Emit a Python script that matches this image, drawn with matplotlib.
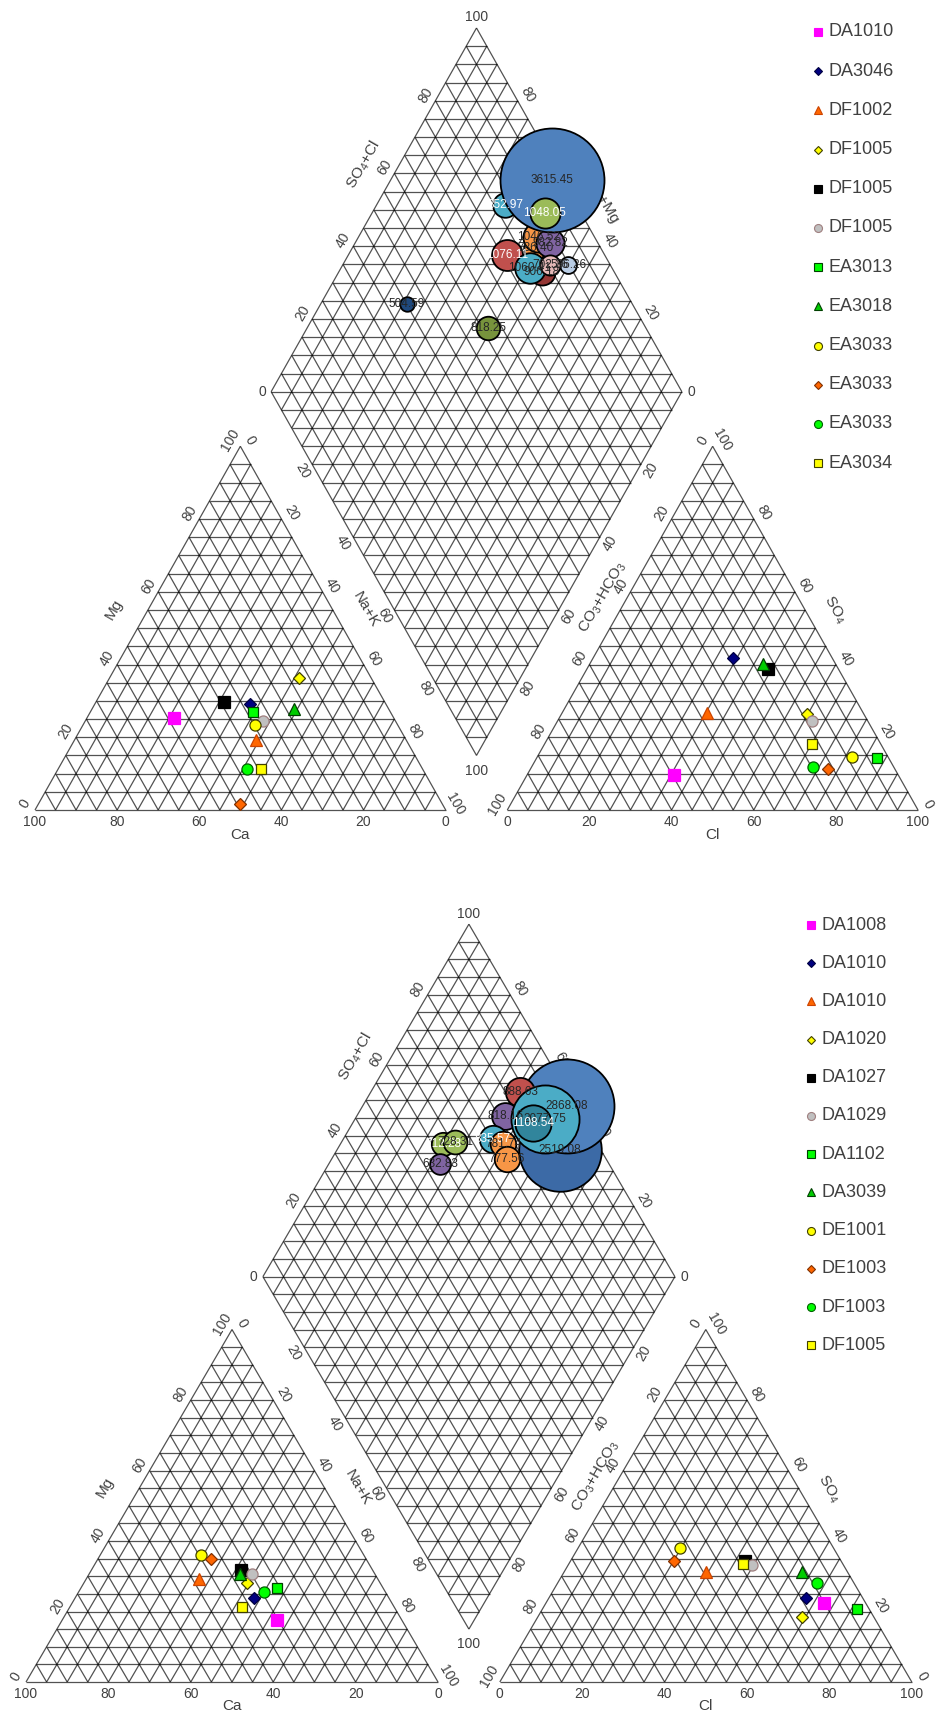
import numpy as np
import matplotlib
matplotlib.use("Agg")
import matplotlib.pyplot as plt
from matplotlib.collections import LineCollection
from matplotlib.lines import Line2D

plt.rcParams['font.family'] = ['Liberation Sans', 'DejaVu Sans']
plt.rcParams['mathtext.fontset'] = 'custom'
plt.rcParams['mathtext.rm'] = 'Liberation Sans'

# ---------------- data: top diagram ----------------
top_names = ['DA1010', 'DA3046', 'DF1002', 'DF1005', 'DF1005', 'DF1005',
             'EA3013', 'EA3018', 'EA3033', 'EA3033', 'EA3033', 'EA3034']
top_mg = [25.3, 29.1, 19.2, 36.3, 29.7, 24.5, 26.9, 27.8, 23.4, 1.6, 11.3, 11.3]
top_nak = [21.2, 37.8, 44.2, 46.2, 31.2, 43.3, 39.6, 49.2, 41.9, 49.1, 46.0, 49.4]
top_so4 = [9.6, 41.8, 26.7, 26.4, 38.8, 24.5, 14.3, 40.1, 14.6, 11.3, 11.8, 18.1]
top_cl = [35.8, 34.1, 35.3, 59.8, 44.1, 62.0, 82.8, 42.2, 76.6, 72.5, 68.5, 65.1]

# bubbles in the diamond (Ca+Mg %, SO4+Cl %, TDS)
top_bub_camg = [50.5, 68.7, 55.5, 56.2, 52.5, 60.7, 57.9, 61.4, 54.0, 45.1, 49.5, 56.0, 79.0]
top_bub_so4cl = [82.4, 82.6, 84.0, 86.2, 88.3, 97.5, 91.2, 76.2, 80.0, 89.7, 85.3, 61.6, 45.2]
top_bub_tds = [906.18, 852.97, 786.40, 1046.52, 982.82, 3615.45, 1048.05,
               1076.11, 1060.41, 586.26, 702.36, 818.25, 504.59]
top_bub_fill = ['#953735', '#4BACC6', '#F79646', '#F79646', '#8064A2', '#4F81BD', '#9BBB59',
                '#C0504D', '#4BACC6', '#B9CDE5', '#E6B9B8', '#77933C', '#1F497D']
top_bub_txt = ['k', 'w', 'k', 'k', 'k', 'k', 'w', 'w', 'k', 'k', 'k', 'k', 'k']

# ---------------- data: bottom diagram ----------------
bot_names = ['DA1008', 'DA1010', 'DA1010', 'DA1020', 'DA1027', 'DA1029',
             'DA1102', 'DA3039', 'DE1001', 'DE1003', 'DF1003', 'DF1005']
bot_mg = [17.5, 23.9, 29.3, 28.2, 31.8, 30.7, 26.8, 30.7, 36.0, 34.9, 25.4, 21.4]
bot_nak = [52.2, 43.4, 27.3, 39.5, 36.3, 39.5, 47.5, 36.6, 24.5, 27.4, 45.1, 41.7]
bot_so4 = [22.3, 23.9, 31.3, 18.3, 34.4, 33.2, 20.8, 31.3, 38.0, 34.4, 28.2, 33.5]
bot_cl = [67.6, 62.4, 34.4, 64.2, 42.3, 44.6, 76.3, 57.7, 24.7, 25.1, 62.9, 42.3]

bot_bub_camg = [45.8, 50.4, 63.8, 64.0, 53.9, 56.2, 63.7, 60.5, 57.5, 75.1, 72.5, 73.0]
bot_bub_so4cl = [90.0, 98.0, 88.6, 81.6, 90.8, 87.4, 75.3, 77.1, 75.9, 62.5, 65.7, 59.0]
bot_bub_tds = [2519.08, 2868.08, 888.63, 818.16, 2077.75, 1108.54, 835.57,
               781.74, 777.56, 712.28, 728.31, 632.83]
bot_bub_fill = ['#3C6AA6', '#4F81BD', '#C0504D', '#8064A2', '#4BACC6', '#31859C', '#4BACC6',
                '#F79646', '#F79646', '#9BBB59', '#9BBB59', '#8064A2']
bot_bub_txt = ['k', 'k', 'k', 'k', 'k', 'w', 'w', 'k', 'k', 'w', 'k', 'k']

# marker styles (same order in both diagrams)
markers = ['s', 'D', '^', 'D', 's', 'o', 's', '^', 'o', 'D', 'o', 's']
faces = ['#FF00FF', '#000080', '#FF6600', '#FFFF00', '#000000', '#C0C0C0',
         '#00FF00', '#00CC00', '#FFFF00', '#FF6600', '#00FF00', '#FFFF00']
edges = ['#FF00FF', '#000040', '#CC4400', '#404000', '#000000', '#A08080',
         '#004000', '#004000', '#404000', '#803000', '#006000', '#404000']
msizes = [8.5, 6.0, 8.0, 6.0, 8.0, 8.0, 7.5, 8.0, 8.0, 6.0, 8.0, 7.5]

TXT = '#404040'
GAP = 15
H = np.sqrt(3) / 2
OX = 100 + GAP
BX, BY = 100 + GAP / 2, GAP * H


def cation_xy(mg, nak):
    mg, nak = np.asarray(mg), np.asarray(nak)
    return nak + mg / 2, H * mg


def anion_xy(so4, cl):
    so4, cl = np.asarray(so4), np.asarray(cl)
    return OX + cl + so4 / 2, H * so4


def diamond_xy(camg, so4cl):
    a, b = np.asarray(camg) / 100, np.asarray(so4cl) / 100
    return BX + 50 * (b - a), BY + 100 * H * (a + b)


def tick(ax, x, y, s, rot=0, size=10):
    ax.text(x, y, s, rotation=rot, ha='center', va='center',
            rotation_mode='anchor', fontsize=size, color=TXT)


def draw_frame(ax):
    segs = []
    for k in range(0, 101, 5):
        # left triangle
        segs.append([(k / 2, H * k), (100 - k / 2, H * k)])
        segs.append([(k, 0), (50 + k / 2, H * (100 - k))])
        segs.append([(100 - k, 0), ((100 - k) / 2, H * (100 - k))])
        # right triangle
        segs.append([(OX + k / 2, H * k), (OX + 100 - k / 2, H * k)])
        segs.append([(OX + k, 0), (OX + 50 + k / 2, H * (100 - k))])
        segs.append([(OX + 100 - k, 0), (OX + (100 - k) / 2, H * (100 - k))])
        # diamond
        segs.append([diamond_xy(k, 0), diamond_xy(k, 100)])
        segs.append([diamond_xy(0, k), diamond_xy(100, k)])
    for j in range(0, 41):
        s = j * 0.05
        w = 50 * (s if s <= 1 else 2 - s)
        y = BY + 100 * H * s
        segs.append([(BX - w, y), (BX + w, y)])
    ax.add_collection(LineCollection(segs, colors='k', linewidths=0.9, alpha=0.68, zorder=1))

    d = 2.8
    for k in range(0, 101, 20):
        # left triangle
        tick(ax, k, -2.9, str(100 - k))
        tick(ax, k / 2 - H * d, H * k + 0.5 * d, str(k), 60)
        tick(ax, 50 + k / 2 + H * d, H * (100 - k) + 0.5 * d, str(k), -60)
        # right triangle
        tick(ax, OX + k, -2.9, str(k))
        tick(ax, OX + 50 - k / 2 - H * d, H * (100 - k) + 0.5 * d, str(k), 60)
        tick(ax, OX + 100 - k / 2 + H * d, H * k + 0.5 * d, str(k), -60)
    lx, ly = BX - 50, BY + 100 * H
    rx, ry = BX + 50, BY + 100 * H
    for k in range(20, 100, 20):
        f = k / 100
        tick(ax, lx + 50 * f - H * d, ly + 100 * H * f + 0.5 * d, str(k), 60)
        tick(ax, rx - 50 * f + H * d, ry + 100 * H * f + 0.5 * d, str(k), -60)
        tick(ax, lx + 50 * f - H * d, ly - 100 * H * f - 0.5 * d, str(k), -60)
        tick(ax, rx - 50 * f + H * d, ry - 100 * H * f - 0.5 * d, str(k), 60)
    tick(ax, lx - 2.2, ly, '0')
    tick(ax, rx + 2.2, ry, '0')
    tick(ax, BX, BY + 200 * H + 2.6, '100')
    tick(ax, BX, BY - 3.6, '100')

    # axis names
    tick(ax, 50, -6.0, 'Ca', size=11)
    tick(ax, OX + 50, -6.0, 'Cl', size=11)
    m = 51
    tick(ax, m / 2 - H * 7.2, H * m + 3.6, 'Mg', 60, 11)
    n = 49
    tick(ax, 50 + n / 2 + H * 7, H * (100 - n) + 3.5, 'Na+K', -60, 11)
    c = 44.5
    tick(ax, OX + 50 - c / 2 - H * 5.2, H * (100 - c) + 2.6,
         r'CO$_\mathregular{3}$+HCO$_\mathregular{3}$', 60, 11)
    s = 51.3
    tick(ax, OX + 100 - s / 2 + H * 6.3, H * s + 3.15, r'SO$_\mathregular{4}$', -60, 11)
    q, dq = 0.58, 7.5
    tick(ax, lx + 50 * q - H * dq, ly + 100 * H * q + 0.5 * dq, r'SO$_\mathregular{4}$+Cl', 60, 11)
    p = 0.49
    tick(ax, rx - 50 * p + H * 6, ry + 100 * H * p + 3, 'Ca+Mg', -60, 11)


def draw_panel(ax, mg, nak, so4, cl, camg, so4cl, tds, fills, txtc, rmax):
    draw_frame(ax)
    cx, cy = cation_xy(mg, nak)
    axx, axy = anion_xy(so4, cl)
    for i in range(len(mg)):
        for x, y in ((cx[i], cy[i]), (axx[i], axy[i])):
            ax.plot(x, y, marker=markers[i], ms=msizes[i], mfc=faces[i], mec=edges[i],
                    mew=0.9, ls='none', zorder=3 + i * 0.01)
    bx, by = diamond_xy(camg, so4cl)
    tds = np.asarray(tds)
    r_px = rmax * tds / tds.max()
    sizes = (2 * r_px * 0.72) ** 2
    for i in range(len(tds)):
        ax.scatter(bx[i], by[i], s=sizes[i], c=fills[i], edgecolors='k',
                   linewidths=1.3, zorder=5 + i * 0.01)
    for i in range(len(tds)):
        ax.text(bx[i], by[i], '%.2f' % tds[i], ha='center', va='center', fontsize=8.5,
                color='white' if txtc[i] == 'w' else '#262626', zorder=8)


def draw_legend(fig, names, xm, xt, y0, dy):
    for i, name in enumerate(names):
        y = 1 - (y0 + dy * i) / 1712
        fig.add_artist(Line2D([xm / 947], [y], transform=fig.transFigure, marker=markers[i],
                              ms=msizes[i] * 0.72, mfc=faces[i], mec=edges[i], mew=0.8, ls='none'))
        fig.text(xt / 947, y, name, ha='left', va='center', fontsize=13, color=TXT)


fig = plt.figure(figsize=(9.47, 17.12), dpi=100)

ax1 = fig.add_axes([0, 0.5, 1, 0.5])
ax1.set_xlim(-35 / 4.107, (947 - 35) / 4.107)
ax1.set_ylim((810 - 856) / 4.2, 810 / 4.2)
ax1.axis('off')
draw_panel(ax1, top_mg, top_nak, top_so4, top_cl, top_bub_camg, top_bub_so4cl,
           top_bub_tds, top_bub_fill, top_bub_txt, 52)

ax2 = fig.add_axes([0, 0, 1, 0.5])
ax2.set_xlim(-26 / 4.12, (947 - 26) / 4.12)
ax2.set_ylim((1682 - 1712) / 4.07, (1682 - 856) / 4.07)
ax2.axis('off')
draw_panel(ax2, bot_mg, bot_nak, bot_so4, bot_cl, bot_bub_camg, bot_bub_so4cl,
           bot_bub_tds, bot_bub_fill, bot_bub_txt, 47)

draw_legend(fig, top_names, 818, 828, 32, 39.2)
draw_legend(fig, bot_names, 811, 821, 925, 38.2)

fig.savefig('out.png', dpi=100)
